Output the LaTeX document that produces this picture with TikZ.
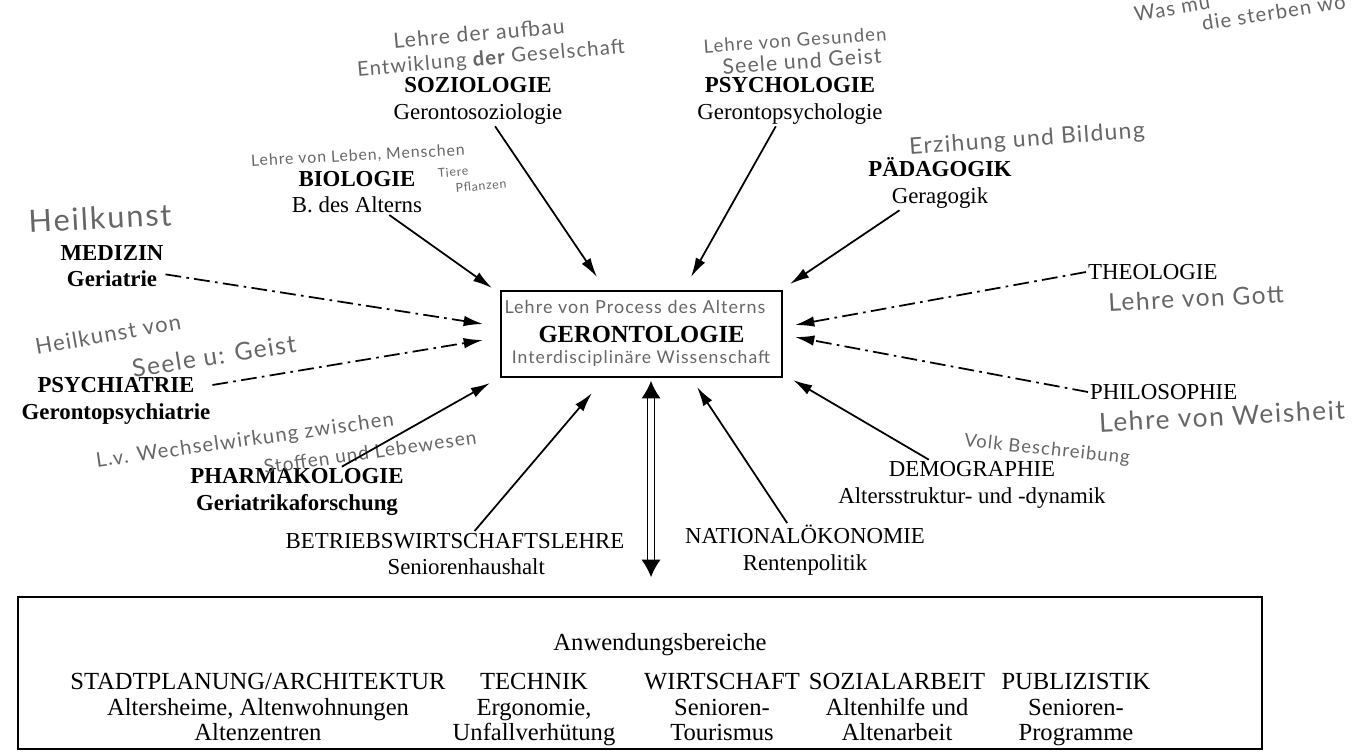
\documentclass[tikz,border=0pt]{standalone}
\usepackage{fontspec}
\setmainfont{Liberation Serif}
\newfontfamily\handfont{Lato}[LetterSpace=6]
\usetikzlibrary{arrows.meta}
\begin{document}
\begin{tikzpicture}[x=0.02cm,y=-0.02cm,
every node/.style={align=center,inner sep=1pt,font=\fontsize{13}{15}\selectfont},
hand/.style={text=black!60,font=\handfont\fontsize{#1}{#1}\selectfont},
hand/.default=12,
arr/.style={line width=1pt,-{Latex[length=11pt,width=6pt]}},
mixarr/.style={arr,dash pattern=on 9pt off 3pt on 1.5pt off 3pt},
box/.style={draw,line width=1pt},
bottomtext/.style={anchor=north,font=\fontsize{14}{14.5}\selectfont}]
\useasboundingbox (0,0) rectangle (1369,755);
\clip (0,0) rectangle (1369,755);
\node[box,minimum width=5.62cm,minimum height=1.72cm,font=\bfseries\fontsize{14}{16}\selectfont] (geronto) at (641.5,334) {GERONTOLOGIE};
\node[hand=10.2] at (635,307) {Lehre von Process des Alterns};
\node[hand=10] at (641,359) {Interdisciplinäre Wissenschaft};
\node (med) at (112,266) {\textbf{MEDIZIN}\\\textbf{Geriatrie}};
\node (psychiat) at (116,401) {\textbf{PSYCHIATRIE}\\\textbf{Gerontopsychiatrie}};
\node (pharma) at (297,492) {\textbf{PHARMAKOLOGIE}\\\textbf{Geriatrikaforschung}};
\node (bio) at (357,192) {\textbf{BIOLOGIE}\\B. des Alterns};
\node (soz) at (478,101) {\textbf{SOZIOLOGIE}\\Gerontosoziologie};
\node (psychol) at (790,101) {\textbf{PSYCHOLOGIE}\\Gerontopsychologie};
\node (paed) at (940,183) {\textbf{PÄDAGOGIK}\\Geragogik};
\node[anchor=west] (theo) at (1086,272) {THEOLOGIE};
\node[anchor=west] (philo) at (1088,392) {PHILOSOPHIE};
\node (demo) at (972,485) {DEMOGRAPHIE\\Altersstruktur- und -dynamik};
\node (natoek) at (805,550) {NATIONALÖKONOMIE\\Rentenpolitik};
\node (bwl) at (455,554) {BETRIEBSWIRTSCHAFTSLEHRE\\\hspace*{0.45cm}Seniorenhaushalt};
\node[hand=17.5,rotate=3] at (100,218) {Heilkunst};
\node[hand=12.5,rotate=10] at (108,334) {Heilkunst von};
\node[hand=14,rotate=9] at (214,356) {Seele u: Geist};
\node[hand=11.5,rotate=8] at (245,441) {L.v. Wechselwirkung zwischen};
\node[hand=10.8,rotate=8] at (370,452) {Stoffen und Lebewesen};
\node[hand=9,rotate=3] at (358,156) {Lehre von Leben, Menschen};
\node[hand=7,rotate=5] at (453,172) {Tiere};
\node[hand=7,rotate=5] at (481,186) {Pflanzen};
\node[hand=12,rotate=5] at (479,33) {Lehre der aufbau};
\node[hand=11.5,rotate=5] at (491,59) {Entwiklung {\bfseries der} Geselschaft};
\node[hand=10.5,rotate=4] at (795,40) {Lehre von Gesunden};
\node[hand=12,rotate=4] at (802,61) {Seele und Geist};
\node[hand=13,rotate=4] at (1027,140) {Erzihung und Bildung};
\node[hand=14,rotate=3] at (1196,298) {Lehre von Gott};
\node[hand=15,rotate=3] at (1222,416) {Lehre von Weisheit};
\node[hand=10.5,rotate=-6] at (1047,450) {Volk Beschreibung};
\node[hand=11.5,rotate=10] at (1172,8) {Was mu};
\node[hand=11.5,rotate=9,anchor=west] at (1200,24) {die sterben wo};
\coordinate (in-med) at (483,324);
\coordinate (in-psychiat) at (483,340);
\coordinate (in-pharma) at (490,383);
\coordinate (in-bio) at (492,288);
\coordinate (in-soz) at (597,277);
\coordinate (in-psychol) at (691,277);
\coordinate (in-paed) at (790,284);
\coordinate (in-theo) at (795,325);
\coordinate (in-philo) at (795,337);
\coordinate (in-demo) at (793,380);
\coordinate (in-natoek) at (697,387);
\coordinate (in-bwl) at (592,393);
\draw[mixarr] (med) -- (in-med);
\draw[mixarr] (psychiat) -- (in-psychiat);
\draw[arr] (pharma) -- (in-pharma);
\draw[arr] (bio) -- (in-bio);
\draw[arr] (soz) -- (in-soz);
\draw[arr] (psychol) -- (in-psychol);
\draw[arr] (paed) -- (in-paed);
\draw[mixarr] (theo.west) -- (in-theo);
\draw[mixarr] (philo.west) -- (in-philo);
\draw[arr] (demo) -- (in-demo);
\draw[arr] (natoek) -- (in-natoek);
\draw[arr] (bwl) -- (in-bwl);
\node[box,minimum width=24.88cm,minimum height=3.04cm] (anwend) at (640,673) {};
\coordinate (dbot) at (geronto.south |- anwend.north);
\draw[line width=0.8pt,double distance=3pt,{Latex[length=10pt,width=11pt]}-{Latex[length=10pt,width=11pt]},shorten >=0.38cm] ([xshift=0.19cm,yshift=-0.06cm]geronto.south) -- ([xshift=0.19cm]dbot);
\node[font=\fontsize{14}{14.5}\selectfont] at (660,645) {Anwendungsbereiche};
\node[bottomtext] (stadt) at (258,670) {\strut STADTPLANUNG/ARCHITEKTUR\\Altersheime, Altenwohnungen\\Altenzentren};
\node[bottomtext] (technik) at (534,670) {\strut TECHNIK\\Ergonomie,\\Unfallverhütung};
\node[bottomtext] (wirtsch) at (722,670) {\strut WIRTSCHAFT\\Senioren-\\Tourismus};
\node[bottomtext] (sozarb) at (897,670) {\strut SOZIALARBEIT\\Altenhilfe und\\Altenarbeit};
\node[bottomtext] (publ) at (1076,670) {\strut PUBLIZISTIK\\Senioren-\\Programme};
\end{tikzpicture}
\end{document}
